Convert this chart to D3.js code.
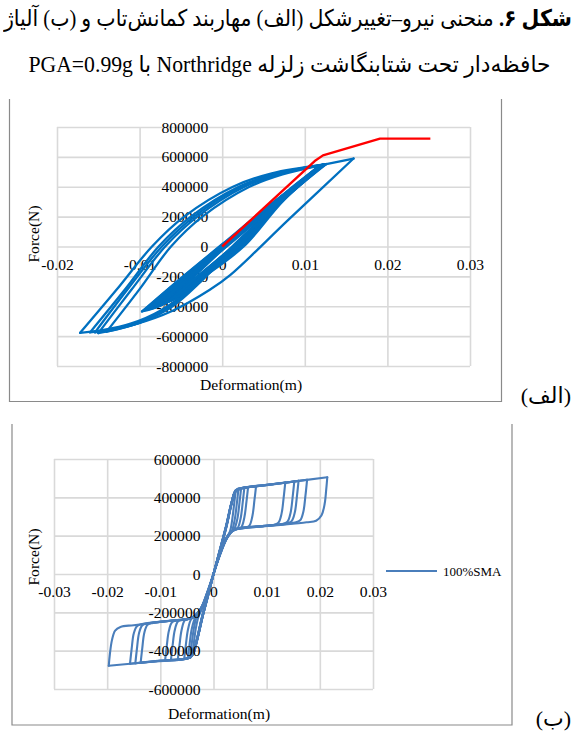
<!DOCTYPE html>
<html>
<head>
<meta charset="utf-8">
<script src="https://cdn.jsdelivr.net/npm/d3@7"></script>
<style>
  html, body { margin: 0; padding: 0; background: #fff; }
  #root { position: relative; width: 576px; height: 737px; overflow: hidden; background: #fff; }
  .cap { position: absolute; white-space: nowrap; font-family: "Liberation Serif", "DejaVu Sans", serif; color: #000; line-height: 30px; }
  svg { position: absolute; left: 0; top: 0; }
</style>
</head>
<body>
<div id="root"></div>
<script>
// ---------- Panel (الف): buckling-restrained brace ----------
const brbXTicks = [-0.02, -0.01, 0, 0.01, 0.02, 0.03];
const brbYTicks = [-800000, -600000, -400000, -200000, 0, 200000, 400000, 600000, 800000];

// Hysteresis trace, one array per loading branch (deformation m, force N)
const brbBranches = [
  [[0, 0], [0.0050, 235000], [0.0090, 420000], [0.0118, 540000]],
  [[0.0118, 540000], [0.0068, 290000], [0.0018, 0], [-0.0035, -235000], [-0.0068, -370000], [-0.0088, -412000]],
  [[-0.0088, -412000], [-0.0045, -205000], [0.0006, 25000], [0.0062, 290000], [0.0121, 546000]],
  [[0.0121, 546000], [0.0065, 270000], [0.0010, -25000], [-0.0035, -270000], [-0.0075, -430000], [-0.0110, -515000], [-0.0145, -560000], [-0.0172, -578000]],
  [[-0.0172, -578000], [-0.0128, -290000], [-0.0085, 0], [-0.0046, 200000], [0.0013, 400000], [0.0060, 490000], [0.0123, 548000]],
  [[0.0123, 548000], [0.0072, 305000], [0.0022, 0], [-0.0030, -225000], [-0.0072, -385000], [-0.0095, -428000]],
  [[-0.0095, -428000], [-0.0050, -215000], [0.0002, 20000], [0.0060, 285000], [0.0124, 550000]],
  [[0.0124, 550000], [0.0068, 285000], [0.0014, -10000], [-0.0030, -250000], [-0.0068, -415000], [-0.0100, -505000], [-0.0135, -555000], [-0.0160, -575000]],
  [[-0.0160, -575000], [-0.0118, -290000], [-0.0077, 0], [-0.0038, 200000], [0.0020, 400000], [0.0065, 488000], [0.0122, 547000]],
  [[0.0122, 547000], [0.0070, 300000], [0.0016, 0], [-0.0038, -245000], [-0.0070, -380000], [-0.0080, -398000]],
  [[-0.0080, -398000], [-0.0040, -200000], [0.0008, 30000], [0.0064, 295000], [0.0120, 543000]],
  [[0.0120, 543000], [0.0066, 280000], [0.0016, 0], [-0.0025, -230000], [-0.0060, -400000], [-0.0095, -500000], [-0.0125, -552000], [-0.0150, -580000]],
  [[-0.0150, -580000], [-0.0110, -290000], [-0.0069, 0], [-0.0030, 200000], [0.0027, 400000], [0.0070, 485000], [0.0126, 552000]],
  [[0.0126, 552000], [0.0074, 310000], [0.0024, 0], [-0.0028, -225000], [-0.0060, -360000], [-0.0070, -378000]],
  [[-0.0070, -378000], [-0.0032, -180000], [0.0010, 35000], [0.0066, 300000], [0.0119, 542000]],
  [[0.0119, 542000], [0.0064, 270000], [0.0012, 0], [-0.0030, -240000], [-0.0068, -420000], [-0.0100, -510000], [-0.0140, -570000]],
  [[-0.0140, -570000], [-0.0100, -285000], [-0.0062, 0], [-0.0024, 200000], [0.0033, 400000], [0.0073, 483000], [0.0120, 545000], [0.0159, 589000]],
  [[0.0159, 589000], [0.0080, 178000], [0.0010, -190000], [-0.0015, -290000], [-0.0060, -430000], [-0.0105, -520000], [-0.0154, -575000]],
  [[-0.0154, -575000], [-0.0115, -290000], [-0.0073, 0], [-0.0034, 200000], [0.0023, 400000], [0.0067, 487000], [0.0123, 549000]],
  [[0.0123, 549000], [0.0070, 300000], [0.0020, 0], [-0.0033, -230000], [-0.0066, -372000], [-0.0092, -420000]],
  [[-0.0092, -420000], [-0.0048, -210000], [0.0004, 22000], [0.0061, 288000], [0.0117, 538000]],
  [[0.0117, 538000], [0.0066, 285000], [0.0013, 0], [-0.0040, -245000], [-0.0075, -395000], [-0.0097, -435000]],
  [[-0.0097, -435000], [-0.0052, -222000], [0.0000, 15000], [0.0058, 280000], [0.0125, 551000]],
  [[0.0125, 551000], [0.0075, 312000], [0.0026, 0], [-0.0025, -215000], [-0.0058, -352000], [-0.0066, -368000]],
  [[-0.0066, -368000], [-0.0028, -170000], [0.0012, 38000], [0.0068, 305000], [0.0121, 546000]],
  [[0.0121, 546000], [0.0071, 303000], [0.0021, 0], [-0.0032, -228000], [-0.0068, -378000], [-0.0084, -408000]],
  [[-0.0084, -408000], [-0.0042, -200000], [0.0007, 28000], [0.0063, 292000], [0.0118, 541000]],
  [[0.0118, 541000], [0.0069, 296000], [0.0019, 0], [-0.0036, -236000], [-0.0072, -388000], [-0.0090, -422000]],
  [[-0.0090, -422000], [-0.0046, -208000], [0.0005, 24000], [0.0062, 289000], [0.0122, 547000]],
  [[0.0122, 547000], [0.0073, 308000], [0.0024, 0], [-0.0030, -222000], [-0.0062, -362000], [-0.0074, -386000]],
  [[-0.0074, -386000], [-0.0035, -186000], [0.0009, 32000], [0.0065, 298000], [0.0120, 544000]],
  [[0.0120, 544000], [0.0071, 300000], [0.0015, 10000], [-0.0036, -232000], [-0.0070, -382000], [-0.0086, -410000]],
  [[-0.0086, -410000], [-0.0040, -190000], [0.0012, 35000], [0.0068, 298000], [0.0123, 549000]],
  [[0.0123, 549000], [0.0069, 292000], [0.0014, 5000], [-0.0038, -238000], [-0.0066, -370000], [-0.0078, -395000]],
  [[-0.0078, -395000], [-0.0035, -182000], [0.0014, 40000], [0.0069, 300000], [0.0120, 544000]]
];

// Monotonic backbone (pushover) curve
const brbBackbone = [[0, 0], [0.0112, 572000], [0.0122, 610000], [0.0191, 722000], [0.0252, 722000]];

// ---------- Panel (ب): shape memory alloy ----------
const smaXTicks = [-0.03, -0.02, -0.01, 0, 0.01, 0.02, 0.03];
const smaYTicks = [-600000, -400000, -200000, 0, 200000, 400000, 600000];
const smaLegend = "100%SMA";

const smaBranches = [
  [[0, 0], [0.0012, 122000], [0.0024, 248000], [0.0034, 368000], [0.0042, 438000]],
  [[0.0042, 438000], [0.0039, 370000], [0.0035, 280000], [0.0031, 222000], [0.0022, 172000], [0.0011, 95000], [0, 0]],
  [[0, 0], [-0.0010, -108000], [-0.0020, -218000], [-0.0030, -335000], [-0.0040, -425000]],
  [[-0.0040, -425000], [-0.0037, -360000], [-0.0033, -280000], [-0.0028, -220000], [-0.0019, -165000], [-0.0009, -85000], [0, 0]],
  [[0, 0], [0.0013, 128000], [0.0025, 255000], [0.0035, 380000], [0.0041, 432000], [0.0047, 446000]],
  [[0.0047, 446000], [0.0044, 370000], [0.0040, 285000], [0.0035, 228000], [0.0024, 180000], [0.0012, 100000], [0, 0]],
  [[0, 0], [-0.0011, -115000], [-0.0021, -228000], [-0.0031, -345000], [-0.0038, -415000], [-0.0044, -438000]],
  [[-0.0044, -438000], [-0.0041, -365000], [-0.0037, -285000], [-0.0032, -225000], [-0.0022, -178000], [-0.0011, -98000], [0, 0]],
  [[0, 0], [0.0011, 118000], [0.0023, 245000], [0.0034, 375000], [0.0042, 438000], [0.0052, 447500]],
  [[0.0052, 447500], [0.0049, 375000], [0.0045, 290000], [0.0039, 235000], [0.0030, 210000], [0.0021, 165000], [0.0010, 88000], [0, 0]],
  [[0, 0], [-0.0010, -112000], [-0.0021, -226000], [-0.0031, -348000], [-0.0039, -420000], [-0.0048, -439000]],
  [[-0.0048, -439000], [-0.0045, -368000], [-0.0041, -288000], [-0.0035, -232000], [-0.0025, -195000], [-0.0013, -112000], [0, 0]],
  [[0, 0], [0.0012, 124000], [0.0024, 250000], [0.0034, 372000], [0.0041, 430000], [0.0050, 445000], [0.0058, 449500]],
  [[0.0058, 449500], [0.0055, 375000], [0.0051, 290000], [0.0045, 238000], [0.0036, 226000], [0.0026, 190000], [0.0013, 105000], [0, 0]],
  [[0, 0], [-0.0011, -118000], [-0.0022, -232000], [-0.0032, -352000], [-0.0040, -422000], [-0.0048, -439000], [-0.0055, -441000]],
  [[-0.0055, -441000], [-0.0052, -370000], [-0.0048, -290000], [-0.0042, -236000], [-0.0032, -215000], [-0.0021, -168000], [-0.0010, -92000], [0, 0]],
  [[0, 0], [0.0012, 120000], [0.0024, 246000], [0.0034, 370000], [0.0041, 428000], [0.0050, 444000], [0.0065, 452000]],
  [[0.0065, 452000], [0.0062, 378000], [0.0058, 295000], [0.0052, 243000], [0.0042, 232000], [0.0033, 218000], [0.0023, 178000], [0.0011, 95000], [0, 0]],
  [[0, 0], [-0.0010, -110000], [-0.0021, -225000], [-0.0031, -345000], [-0.0039, -420000], [-0.0047, -439000], [-0.0067, -444000]],
  [[-0.0067, -444000], [-0.0064, -372000], [-0.0060, -292000], [-0.0054, -242000], [-0.0045, -233000], [-0.0033, -218000], [-0.0022, -175000], [-0.0011, -98000], [0, 0]],
  [[0, 0], [0.0012, 123000], [0.0024, 250000], [0.0034, 372000], [0.0041, 430000], [0.0050, 445000], [0.0080, 457000]],
  [[0.0080, 457000], [0.0077, 385000], [0.0073, 300000], [0.0067, 250000], [0.0058, 240000], [0.0042, 234000], [0.0033, 220000], [0.0023, 180000], [0.0011, 97000], [0, 0]],
  [[0, 0], [-0.0010, -110000], [-0.0021, -225000], [-0.0031, -345000], [-0.0039, -420000], [-0.0047, -439000], [-0.0080, -448000]],
  [[-0.0080, -448000], [-0.0077, -375000], [-0.0073, -295000], [-0.0067, -248000], [-0.0058, -238000], [-0.0042, -231000], [-0.0032, -212000], [-0.0021, -168000], [-0.0010, -90000], [0, 0]],
  [[0, 0], [-0.0011, -116000], [-0.0022, -230000], [-0.0032, -350000], [-0.0040, -422000], [-0.0048, -440000], [-0.0091, -451000]],
  [[-0.0091, -451000], [-0.0088, -378000], [-0.0084, -298000], [-0.0078, -252000], [-0.0069, -242000], [-0.0045, -233000], [-0.0034, -216000], [-0.0023, -176000], [-0.0011, -96000], [0, 0]],
  [[0, 0], [0.0012, 124000], [0.0024, 250000], [0.0034, 372000], [0.0041, 432000], [0.0050, 446000], [0.0090, 461000], [0.0135, 477000]],
  [[0.0135, 477000], [0.0132, 400000], [0.0128, 315000], [0.0122, 268000], [0.0112, 256000], [0.0080, 246000], [0.0045, 236000], [0.0034, 222000], [0.0024, 186000], [0.0012, 104000], [0, 0]],
  [[0, 0], [-0.0010, -110000], [-0.0021, -225000], [-0.0031, -345000], [-0.0039, -420000], [-0.0047, -439000], [-0.0090, -450000], [-0.0137, -463000]],
  [[-0.0137, -463000], [-0.0134, -388000], [-0.0130, -305000], [-0.0124, -265000], [-0.0114, -255000], [-0.0080, -243000], [-0.0045, -232000], [-0.0034, -215000], [-0.0023, -178000], [-0.0012, -100000], [0, 0]],
  [[0, 0], [0.0013, 126000], [0.0025, 252000], [0.0035, 376000], [0.0042, 434000], [0.0050, 446000], [0.0100, 464000], [0.0152, 483000]],
  [[0.0152, 483000], [0.0149, 405000], [0.0145, 320000], [0.0139, 273000], [0.0129, 261000], [0.0090, 249000], [0.0045, 237000], [0.0034, 223000], [0.0024, 185000], [0.0012, 102000], [0, 0]],
  [[0, 0], [-0.0011, -114000], [-0.0022, -228000], [-0.0032, -348000], [-0.0040, -421000], [-0.0048, -440000], [-0.0100, -453000], [-0.0147, -466000]],
  [[-0.0147, -466000], [-0.0144, -390000], [-0.0140, -308000], [-0.0134, -268000], [-0.0124, -258000], [-0.0085, -245000], [-0.0045, -233000], [-0.0034, -216000], [-0.0023, -176000], [-0.0012, -98000], [0, 0]],
  [[0, 0], [0.0012, 122000], [0.0024, 248000], [0.0034, 370000], [0.0041, 430000], [0.0050, 445000], [0.0100, 463000], [0.0160, 486000]],
  [[0.0160, 486000], [0.0157, 408000], [0.0153, 322000], [0.0147, 276000], [0.0137, 263000], [0.0095, 251000], [0.0045, 237000], [0.0034, 222000], [0.0024, 184000], [0.0012, 101000], [0, 0]],
  [[0, 0], [-0.0010, -110000], [-0.0021, -225000], [-0.0031, -345000], [-0.0039, -420000], [-0.0047, -439000], [-0.0100, -452000], [-0.0157, -468000]],
  [[-0.0157, -468000], [-0.0154, -392000], [-0.0150, -310000], [-0.0144, -272000], [-0.0134, -261000], [-0.0090, -247000], [-0.0045, -233000], [-0.0034, -214000], [-0.0023, -175000], [-0.0012, -97000], [0, 0]],
  [[0, 0], [0.0012, 124000], [0.0024, 250000], [0.0034, 372000], [0.0041, 432000], [0.0050, 446000], [0.0110, 468000], [0.0176, 491500]],
  [[0.0176, 491500], [0.0173, 410000], [0.0169, 325000], [0.0163, 280000], [0.0153, 268000], [0.0100, 252000], [0.0045, 237000], [0.0034, 222000], [0.0024, 185000], [0.0012, 103000], [0, 0]],
  [[0, 0], [-0.0011, -115000], [-0.0022, -229000], [-0.0032, -349000], [-0.0040, -422000], [-0.0048, -440000], [-0.0120, -459000], [-0.0197, -479000]],
  [[-0.0197, -479000], [-0.0195, -420000], [-0.0191, -345000], [-0.0185, -295000], [-0.0175, -276000], [-0.0150, -267000], [-0.0100, -250000], [-0.0060, -237000], [-0.0040, -230000], [-0.0030, -210000], [-0.0020, -160000], [-0.0010, -85000], [0, 0]],
  [[0, 0], [0.0012, 123000], [0.0024, 250000], [0.0034, 372000], [0.0041, 431000], [0.0050, 446000], [0.0130, 475000], [0.0214, 505000]],
  [[0.0214, 505000], [0.0212, 440000], [0.0209, 365000], [0.0203, 305000], [0.0193, 278000], [0.0175, 270000], [0.0120, 255000], [0.0060, 240000], [0.0040, 232000], [0.0030, 212000], [0.0020, 165000], [0.0010, 90000], [0, 0]]
];

const serif = '"Liberation Serif", "Times New Roman", serif';
const gridColor = "#d9d9d9";

const root = d3.select("#root");
const svg = root.append("svg").attr("width", 576).attr("height", 737);

function drawPanel(cfg) {
  const g = svg.append("g");
  const { x, y } = cfg;
  const [x0, x1] = x.range();
  const [y0, y1] = y.range();

  // outer chart frame (left, bottom, right edges)
  const f = cfg.frame;
  g.append("path")
    .attr("d", `M${f.left},${f.top}V${f.bottom}H${f.right}V${f.top}`)
    .attr("fill", "none").attr("stroke", "#8a8a8a").attr("stroke-width", 1.2);

  // vertical grid
  g.append("g").attr("transform", `translate(0,${y0})`)
    .call(d3.axisBottom(x).tickValues(cfg.xTicks).tickSize(-(y0 - y1)).tickFormat(""))
    .call(s => s.select(".domain").remove())
    .selectAll("line").attr("stroke", gridColor).attr("stroke-width", 1.6);
  // horizontal grid
  g.append("g").attr("transform", `translate(${x0},0)`)
    .call(d3.axisLeft(y).tickValues(cfg.yTicks).tickSize(-(x1 - x0)).tickFormat(""))
    .call(s => s.select(".domain").remove())
    .selectAll("line").attr("stroke", gridColor).attr("stroke-width", 1.6);

  const labels = g.append("g");
  const series = g.append("g");
  if (cfg.labelsOnTop) labels.raise();

  // tick labels anchored on the zero axes
  labels.append("g").attr("transform", `translate(${x(0)},0)`)
    .call(d3.axisLeft(y).tickValues(cfg.yTicks).tickSize(0).tickPadding(cfg.yPad).tickFormat(d => String(d)))
    .call(s => s.select(".domain").remove())
    .call(s => s.selectAll("text").attr("font-family", serif).attr("font-size", 15.6).attr("fill", "#000"));
  labels.append("g").attr("transform", `translate(0,${y(0)})`)
    .call(d3.axisBottom(x).tickValues(cfg.xTicks).tickSize(0).tickPadding(12).tickFormat(d => String(d)))
    .call(s => s.select(".domain").remove())
    .call(s => s.selectAll("text").attr("font-family", serif).attr("font-size", 15.6).attr("fill", "#000"));

  // axis titles
  labels.append("text")
    .attr("transform", `translate(${cfg.yTitle[0]},${cfg.yTitle[1]}) rotate(-90)`)
    .attr("text-anchor", "middle").attr("dominant-baseline", "central")
    .attr("font-family", serif).attr("font-size", 15.6).text("Force(N)");
  labels.append("text")
    .attr("x", cfg.xTitle[0]).attr("y", cfg.xTitle[1])
    .attr("text-anchor", "middle").attr("dominant-baseline", "central")
    .attr("font-family", serif).attr("font-size", 15.6).text("Deformation(m)");

  const line = d3.line().x(d => x(d[0])).y(d => y(d[1])).curve(d3.curveCatmullRom.alpha(0.5));
  series.selectAll("path.branch").data(cfg.branches).join("path")
    .attr("class", "branch")
    .attr("d", line)
    .attr("fill", "none").attr("stroke", cfg.color).attr("stroke-width", cfg.width)
    .attr("stroke-linejoin", "round").attr("stroke-linecap", "round");
  return { g, series, line };
}

// Panel (الف)
const aX = d3.scaleLinear().domain([-0.02, 0.03]).range([57, 470]);
const aY = d3.scaleLinear().domain([-800000, 800000]).range([366, 127]);
const pa = drawPanel({
  x: aX, y: aY, xTicks: brbXTicks, yTicks: brbYTicks, yPad: 14,
  frame: { left: 9.5, right: 501.5, top: 99, bottom: 401.5 },
  yTitle: [33, 234], xTitle: [251, 384],
  branches: brbBranches, color: "#0070c0", width: 2.3, labelsOnTop: false
});
pa.series.append("path")
  .attr("d", d3.line().x(d => aX(d[0])).y(d => aY(d[1]))(brbBackbone))
  .attr("fill", "none").attr("stroke", "#ff0000").attr("stroke-width", 2.4)
  .attr("stroke-linejoin", "round");

// Panel (ب)
const bX = d3.scaleLinear().domain([-0.03, 0.03]).range([54, 373]);
const bY = d3.scaleLinear().domain([-600000, 600000]).range([689, 459]);
const pb = drawPanel({
  x: bX, y: bY, xTicks: smaXTicks, yTicks: smaYTicks, yPad: 13,
  frame: { left: 12, right: 512, top: 424, bottom: 725 },
  yTitle: [33, 557], xTitle: [219, 713],
  branches: smaBranches, color: "#4a7ebb", width: 2.1, labelsOnTop: true
});
// legend
pb.g.append("line").attr("x1", 386).attr("x2", 437).attr("y1", 571).attr("y2", 571)
  .attr("stroke", "#4a7ebb").attr("stroke-width", 2.2);
pb.g.append("text").attr("x", 443).attr("y", 571).attr("dominant-baseline", "central")
  .attr("font-family", serif).attr("font-size", 13).text(smaLegend);

// ---------- captions ----------
function caption(html, opts) {
  const el = root.append("div").attr("class", "cap").attr("dir", "rtl")
    .style("font-size", opts.size + "px").style("top", opts.top + "px").html(html);
  const node = el.node();
  const w = node.getBoundingClientRect().width;
  const s = opts.width ? opts.width / w : 1;
  if (opts.center !== undefined) {
    el.style("left", (opts.center - w / 2) + "px").style("transform", `scaleX(${s})`).style("transform-origin", "50% 50%");
  } else {
    el.style("left", (opts.right - w) + "px").style("transform", `scaleX(${s})`).style("transform-origin", "100% 50%");
  }
}
caption('<b>شکل ۶.</b> منحنی نیرو–تغییرشکل (الف) مهاربند کمانش‌تاب و (ب) آلیاژ', { size: 23, top: 4, right: 572, width: 568 });
caption('حافظه‌دار تحت شتابنگاشت زلزله Northridge با PGA=0.99g', { size: 23, top: 50, center: 289, width: 522 });
caption('(الف)', { size: 22, top: 381, right: 571 });
caption('(ب)', { size: 22, top: 704, right: 571 });
</script>
</body>
</html>
